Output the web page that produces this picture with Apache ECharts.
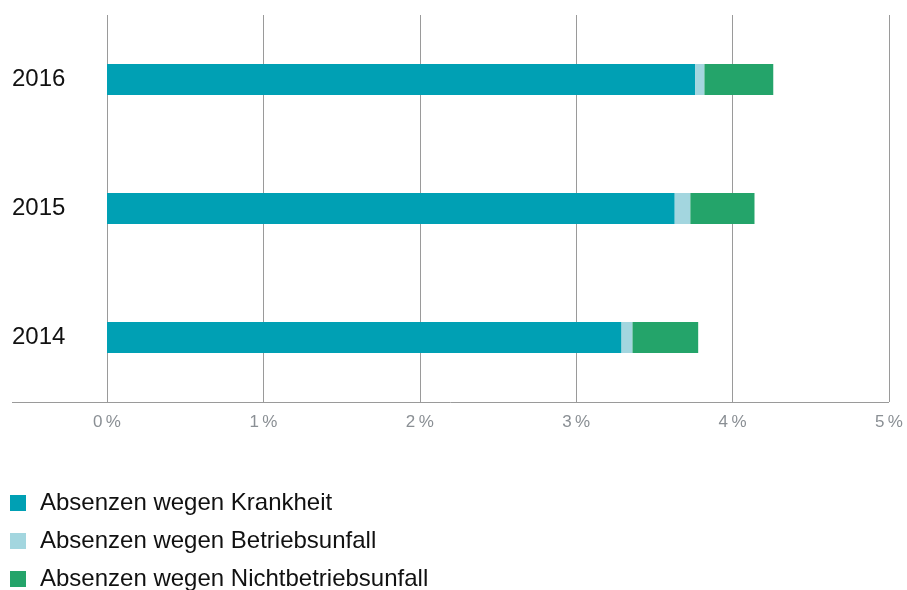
<!DOCTYPE html>
<html><head><meta charset="utf-8">
<script src="https://cdn.jsdelivr.net/npm/echarts@6/dist/echarts.min.js"></script>
<style>html,body{margin:0;padding:0;background:#fff}#c{width:907px;height:590px}</style>
</head><body><div id="c"></div>
<script>
const years = ['2014', '2015', '2016'];
const krankheit = [3.29, 3.63, 3.76];
const betriebsunfall = [0.07, 0.10, 0.06];
const nichtbetriebsunfall = [0.42, 0.41, 0.44];
const seriesNames = ['Absenzen wegen Krankheit', 'Absenzen wegen Betriebsunfall', 'Absenzen wegen Nichtbetriebsunfall'];
const colors = ['#00a0b4', '#a3d6df', '#24a46a'];
const xTicks = [0, 1, 2, 3, 4, 5];

const chart = echarts.init(document.getElementById('c'));
const font = '"Liberation Sans", Arial, Helvetica, sans-serif';
const legendTops = [491, 529, 567];
chart.setOption({
  animation: false,
  textStyle: { fontFamily: font },
  grid: { left: 107, right: 18, top: 15, height: 387 },
  xAxis: {
    type: 'value', min: xTicks[0], max: xTicks[xTicks.length - 1], interval: 1,
    axisLine: { show: false },
    axisTick: { show: false },
    splitLine: { show: true, lineStyle: { color: '#9a9a9a', width: 1 } },
    axisLabel: { formatter: v => v + '\u2009%', color: '#8a8f94', fontSize: 17, margin: 12, fontFamily: font }
  },
  yAxis: {
    type: 'category', data: years,
    axisLine: { show: false }, axisTick: { show: false },
    axisLabel: { align: 'left', margin: 95, color: '#111', fontSize: 24, fontFamily: font }
  },
  legend: seriesNames.map((n, i) => ({
    orient: 'vertical', left: 10, top: legendTops[i], padding: 0,
    itemWidth: 16, itemHeight: 16, icon: 'rect',
    textStyle: { fontSize: 24, color: '#111', padding: [0, 0, 0, 9], fontFamily: font },
    data: [n]
  })),
  graphic: [{
    type: 'line', shape: { x1: 12, y1: 402.5, x2: 889, y2: 402.5 },
    style: { stroke: '#9a9a9a', lineWidth: 1 }, silent: true
  }],
  series: [krankheit, betriebsunfall, nichtbetriebsunfall].map((d, i) => ({
    name: seriesNames[i], type: 'bar', stack: 'a', data: d, barWidth: 31,
    itemStyle: { color: colors[i] }
  }))
});
</script></body></html>
